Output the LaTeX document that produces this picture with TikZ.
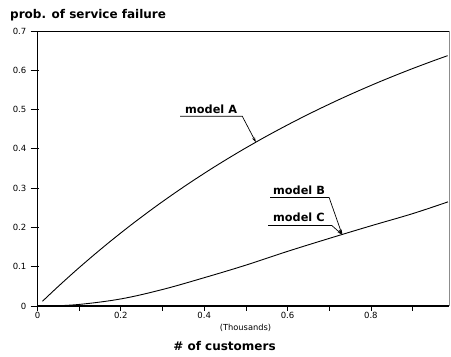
\documentclass[tikz,border=0pt]{standalone}
\usepackage{fontspec}
\setmainfont{DejaVu Sans}
\usetikzlibrary{arrows.meta}
\tikzset{
  axisline/.style={line width=1.1pt},
  curveline/.style={line width=0.9pt},
  leader/.style={line width=0.7pt},
  tickmark/.style={line width=0.7pt},
  ticklab/.style={font=\fontsize{8.5}{9}\selectfont, inner sep=0pt},
  biglab/.style={font=\fontsize{12}{13}\selectfont\bfseries, inner sep=0pt},
  modellab/.style={font=\fontsize{11.3}{12}\selectfont\bfseries, inner sep=0pt, anchor=base west},
  tiparrow/.style={-{Stealth[length=5pt,width=3pt]}}
}
\begin{document}
\begin{tikzpicture}[x=1pt,y=1pt]
\useasboundingbox (0,0) rectangle (451,357);
\begin{scope}[shift={(37.5,51)}, x=416.7pt, y=392.9pt]
  % frame
  \coordinate (o) at (0,0);
  \coordinate (xe) at (0.988,0);
  \coordinate (ye) at (0,0.7);
  \coordinate (tr) at (0.988,0.7);
  \draw[line width=0.8pt] (ye) -- (tr);
  \draw[line width=0.4pt, black!45] (tr) -- (xe);
  \draw[axisline] (o) -- (xe);
  \draw[axisline] (o) -- (ye);
  % y ticks
  \foreach \v/\t in {0/0,0.1/0.1,0.2/0.2,0.3/0.3,0.4/0.4,0.5/0.5,0.6/0.6,0.7/0.7}{
    \draw[tickmark] ([xshift=-7pt]0,\v) -- ([xshift=1pt]0,\v);
    \node[ticklab, anchor=east] (yl\t) at ([xshift=-11pt]0,\v) {\t};
  }
  % x ticks
  \foreach \u in {0,0.1,0.2,0.3,0.4,0.5,0.6,0.7,0.8,0.9}{
    \draw[tickmark] (\u,0) -- ([yshift=-5pt]\u,0);
  }
  \foreach \u in {0,0.2,0.4,0.6,0.8}{
    \node[ticklab] (xl\u) at ([yshift=-9.5pt]\u,0) {\u};
  }
  % curve A
  \draw[curveline] plot[domain=0.012:0.985, samples=60, smooth] (\x,{1-exp(-1.03*\x)});
  % curve B/C
  \draw[curveline] plot[smooth, tension=0.6] coordinates {
    (0.03,0) (0.1,0.004) (0.2,0.018) (0.3,0.042) (0.4,0.072) (0.5,0.104)
    (0.6,0.139) (0.7,0.172) (0.8,0.204) (0.9,0.235) (0.985,0.265)};
  \coordinate (tipA) at (0.524,{1-exp(-1.03*0.524)});
  \coordinate (tipBC) at (0.731,0.182);
\end{scope}
% axis titles
\node[biglab, anchor=base west] (ytitle) at (10,338.7) {prob. of service failure};
\node[font=\fontsize{8.3}{9}\selectfont, inner sep=0pt] (thou) at (245.5,29) {(Thousands)};
\node[biglab] (xtitle) at (224.5,11) {\# of customers};
% model labels
\node[modellab] (labA) at (185,243) {model A};
\node[modellab] (labB) at (273,162) {model B};
\node[modellab] (labC) at (273,135) {model C};
\draw[leader, tiparrow] ([xshift=-5pt,yshift=-2.2pt]labA.base west) -- ([xshift=5pt,yshift=-2.2pt]labA.base east) -- (tipA);
\draw[leader, tiparrow] ([xshift=-3pt,yshift=-2.5pt]labB.base west) -- ([xshift=4pt,yshift=-2.5pt]labB.base east) -- (tipBC);
\draw[leader, tiparrow] ([xshift=-5pt,yshift=-3.5pt]labC.base west) -- ([xshift=7pt,yshift=-3.5pt]labC.base east) -- (tipBC);
\end{tikzpicture}
\end{document}
